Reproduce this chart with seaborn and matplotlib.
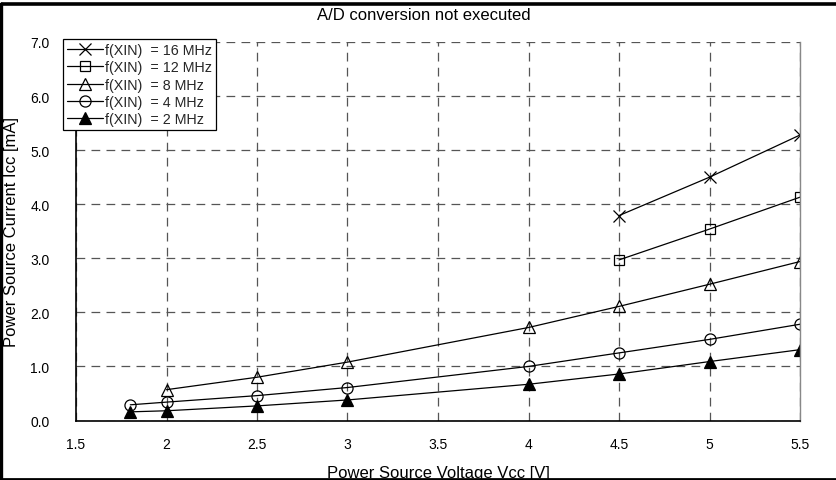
import matplotlib
matplotlib.use("Agg")
import matplotlib.pyplot as plt
import seaborn as sns
import pandas as pd
from matplotlib.lines import Line2D

sns.set_theme(style="white")
plt.rcParams['font.family'] = ['Liberation Sans', 'DejaVu Sans']

# ---- data ----
series_labels = ["f(XIN)  = 16 MHz", "f(XIN)  = 12 MHz", "f(XIN)  = 8 MHz",
                 "f(XIN)  = 4 MHz", "f(XIN)  = 2 MHz"]
vcc_16 = [4.5, 5.0, 5.5]
icc_16 = [3.79, 4.50, 5.28]
vcc_12 = [4.5, 5.0, 5.5]
icc_12 = [2.97, 3.54, 4.13]
vcc_8 = [2.0, 2.5, 3.0, 4.0, 4.5, 5.0, 5.5]
icc_8 = [0.57, 0.80, 1.08, 1.72, 2.11, 2.52, 2.94]
vcc_4 = [1.8, 2.0, 2.5, 3.0, 4.0, 4.5, 5.0, 5.5]
icc_4 = [0.29, 0.34, 0.46, 0.61, 1.00, 1.25, 1.50, 1.78]
vcc_2 = [1.8, 2.0, 2.5, 3.0, 4.0, 4.5, 5.0, 5.5]
icc_2 = [0.16, 0.18, 0.27, 0.38, 0.67, 0.86, 1.09, 1.31]

x_ticks = [1.5, 2, 2.5, 3, 3.5, 4, 4.5, 5, 5.5]
x_tick_labels = ["1.5", "2", "2.5", "3", "3.5", "4", "4.5", "5", "5.5"]
y_ticks = [0, 1, 2, 3, 4, 5, 6, 7]
y_tick_labels = ["0.0", "1.0", "2.0", "3.0", "4.0", "5.0", "6.0", "7.0"]

title = "A/D conversion not executed"
xlabel = "Power Source Voltage Vcc [V]"
ylabel = "Power Source Current Icc [mA]"

series = [
    (series_labels[0], vcc_16, icc_16, dict(marker="x", markersize=8.5, markeredgewidth=0.9)),
    (series_labels[1], vcc_12, icc_12, dict(marker="s", markersize=7.5, markerfacecolor="none", markeredgewidth=0.9)),
    (series_labels[2], vcc_8, icc_8, dict(marker="^", markersize=8.5, markerfacecolor="none", markeredgewidth=0.9)),
    (series_labels[3], vcc_4, icc_4, dict(marker="o", markersize=8, markerfacecolor="none", markeredgewidth=0.9)),
    (series_labels[4], vcc_2, icc_2, dict(marker="^", markersize=8.5, markerfacecolor="black", markeredgewidth=0.9)),
]

fig = plt.figure(figsize=(8.37, 4.81), dpi=100)
fig.patch.set_facecolor("white")
ax = fig.add_axes([76 / 837, 1 - 421.5 / 481, 724 / 837, (421.5 - 43) / 481])
ax.set_facecolor("white")

for label, xs, ys, kw in series:
    df = pd.DataFrame({"Vcc": xs, "Icc": ys})
    sns.lineplot(data=df, x="Vcc", y="Icc", ax=ax, color="black", linewidth=0.9,
                 markeredgecolor="black", label=label, **kw)

ax.set_xlim(1.5, 5.5)
ax.set_ylim(0, 7.0)
ax.set_xticks(x_ticks)
ax.set_xticklabels(x_tick_labels)
ax.set_yticks(y_ticks)
ax.set_yticklabels(y_tick_labels)
ax.tick_params(axis="both", length=0, labelsize=10, colors="black")
ax.tick_params(axis="y", pad=19)
ax.tick_params(axis="x", pad=12)

ax.grid(True, color="#555555", linestyle=(0, (7, 5)), linewidth=0.9)
for s in ["left", "bottom"]:
    ax.spines[s].set_color("black")
    ax.spines[s].set_linewidth(1.2)
ax.spines["top"].set_visible(False)
ax.spines["right"].set_color("#888888")
ax.spines["right"].set_linewidth(1.0)

ax.set_xlabel(xlabel, fontsize=12, color="black", labelpad=10)
ax.set_ylabel(ylabel, fontsize=12, color="black", labelpad=8)

fig.text(424 / 837, 1 - 15 / 481, title, ha="center", va="center", fontsize=12, color="black")

leg = ax.legend(loc="upper left", bbox_to_anchor=(62.7 / 837, 1 - 40 / 481),
                bbox_transform=fig.transFigure, borderaxespad=0, fontsize=10.3,
                frameon=True, fancybox=False, handlelength=2.5, handletextpad=0.15,
                labelspacing=0.22, borderpad=0.3, framealpha=1)
leg.get_frame().set_edgecolor("black")
leg.get_frame().set_linewidth(0.9)
leg.set_zorder(5)

# outer frame: top, left, bottom (open at the right)
top_y = 1 - 4.5 / 481
left_x = 1.5 / 837
bot_y = 0.8 / 481
fig.add_artist(Line2D([left_x, 1.0], [top_y, top_y], transform=fig.transFigure,
                      color="black", linewidth=2.6, solid_capstyle="butt"))
fig.add_artist(Line2D([left_x, left_x], [bot_y, top_y], transform=fig.transFigure,
                      color="black", linewidth=2.4, solid_capstyle="projecting"))
fig.add_artist(Line2D([left_x, 1.0], [bot_y, bot_y], transform=fig.transFigure,
                      color="black", linewidth=2.0, solid_capstyle="butt"))

fig.savefig("out.png", dpi=100)
